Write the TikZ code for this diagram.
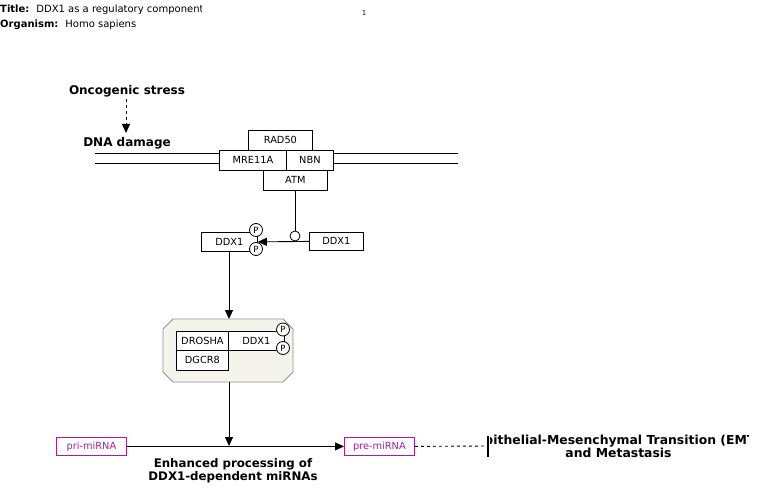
\documentclass[tikz,border=0pt]{standalone}
\usepackage{fontspec}
\setmainfont{DejaVu Sans}
\usetikzlibrary{arrows.meta}
\definecolor{rnacol}{HTML}{A020A0}
\definecolor{cplxfill}{HTML}{F5F4EC}
\definecolor{cplxdraw}{HTML}{909090}
\tikzset{
  x=1pt,y=-1pt,
  gbox/.style={draw=black,line width=0.8pt,fill=white,font=\fontsize{9.8}{11}\selectfont,inner sep=0pt,anchor=north west},
  rbox/.style={draw=rnacol,line width=0.8pt,fill=white,text=rnacol,font=\fontsize{9.8}{11}\selectfont,inner sep=0pt,anchor=north west},
  pcirc/.style={circle,draw=black,line width=0.8pt,fill=white,inner sep=0pt,minimum size=13pt,font=\fontsize{8.5}{9}\selectfont},
  lbl/.style={font=\bfseries\fontsize{12}{13}\selectfont,align=center,inner sep=0pt},
  conn/.style={line width=0.9pt,draw=black},
  tip/.style={-{Triangle[length=9pt,width=8pt]}},
  hdr/.style={anchor=base west,inner sep=0pt,font=\fontsize{10}{11}\selectfont}
}
\begin{document}
\begin{tikzpicture}
\useasboundingbox (0,0) rectangle (762,502);
\fill[white] (0,0) rectangle (762,502);
% header
\begin{scope}
\clip (0,0) rectangle (201,30);
\node[hdr] (title) at (0,13) {\textbf{Title:}\hspace{7pt}DDX1 as a regulatory component of the Drosha microprocessor};
\end{scope}
\node[hdr] (org) at (0,28) {\textbf{Organism:}\hspace{7pt}Homo sapiens};
\node[anchor=base,inner sep=0pt,text=blue!70!black,font=\fontsize{7}{8}\selectfont] (pg) at (364,16) {1};
% stress
\node[lbl] (onco) at (127,91) {Oncogenic stress};
\coordinate (dmgtop) at (126,133);
\draw[conn,dashed,tip] (126,99) -- (dmgtop);
\node[lbl] (dna) at (127,143) {DNA damage};
% DNA
\draw[line width=1.8pt] (95,153.5) -- (458,153.5);
\draw[line width=1.8pt] (95,163.5) -- (458,163.5);
% MRN complex
\node[gbox,minimum width=64pt,minimum height=20pt] (rad) at (248,130) {RAD50};
\node[gbox,minimum width=67pt,minimum height=20pt] (mre) at (219,150) {MRE11A};
\node[gbox,minimum width=47pt,minimum height=20pt] (nbn) at (286,150) {NBN};
\node[gbox,minimum width=64pt,minimum height=20pt] (atm) at (263,170) {ATM};
% DDX1
\node[gbox,minimum width=54pt,minimum height=18pt] (ddxr) at (309,232) {DDX1};
\node[gbox,minimum width=56pt,minimum height=19pt] (ddxl) at (201,232) {DDX1};
\draw[conn,tip] (ddxr.west) -- (ddxl.east);
\node[circle,draw=black,line width=0.8pt,fill=white,minimum size=10pt,inner sep=0pt] (cat) at (295,236) {};
\draw[conn] (atm.south -| cat) -- (cat.north);
\node[pcirc] (p1) at (256,230) {P};
\node[pcirc] (p2) at (256,249) {P};
% complex
\draw[conn,tip] (ddxl.south -| 229,0) -- (229,319);
\draw[draw=cplxdraw,fill=cplxfill,line width=0.8pt] (173,319) -- (283,319) -- (293,329) -- (293,372) -- (283,382) -- (173,382) -- (163,372) -- (163,329) -- cycle;
\node[gbox,minimum width=52pt,minimum height=19pt] (drosha) at (176,331) {DROSHA};
\node[gbox,minimum width=56pt,minimum height=19pt] (ddxc) at (228,331) {DDX1};
\node[gbox,minimum width=52pt,minimum height=20pt] (dgcr) at (176,350) {DGCR8};
\node[pcirc] (p3) at (283,329.5) {P};
\node[pcirc] (p4) at (283,348) {P};
\coordinate (cplxbot) at (229,382);
% RNAs
\node[rbox,minimum width=70pt,minimum height=18pt] (pri) at (56,437) {pri-miRNA};
\node[rbox,minimum width=70pt,minimum height=18pt] (pre) at (344,437) {pre-miRNA};
\draw[conn,tip] (pri.east) -- (pre.west);
\coordinate (junc) at (229,446);
\draw[conn,tip] (cplxbot) -- (junc);
\node[lbl,font=\bfseries\fontsize{11.8}{13}\selectfont] (enh) at (233,470.5) {Enhanced processing of\\DDX1-dependent miRNAs};
\coordinate (bar) at (488,446);
\draw[conn,dashed] (pre.east) -- (bar);
\draw[line width=2.5pt] (488,435.5) -- (488,457);
\begin{scope}
\clip (490,425) rectangle (748,470);
\node[lbl,font=\bfseries\fontsize{12.4}{13}\selectfont] (emt) at (618.5,446) {Epithelial-Mesenchymal Transition (EMT)\\and Metastasis};
\end{scope}
\end{tikzpicture}
\end{document}
